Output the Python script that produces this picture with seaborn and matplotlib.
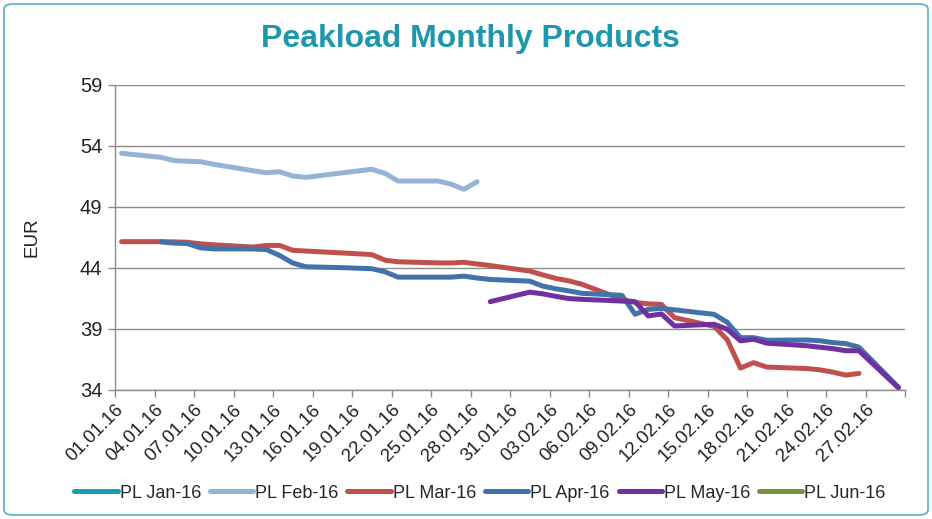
import numpy as np
import pandas as pd
import matplotlib
matplotlib.use("Agg")
import matplotlib.pyplot as plt
from matplotlib.lines import Line2D
from matplotlib.patches import FancyBboxPatch
import seaborn as sns

# ---------------- data ----------------
trade_dates = [
    "01.01.16", "04.01.16", "05.01.16", "06.01.16", "07.01.16", "08.01.16",
    "11.01.16", "12.01.16", "13.01.16", "14.01.16", "15.01.16",
    "18.01.16", "19.01.16", "20.01.16", "21.01.16", "22.01.16",
    "25.01.16", "26.01.16", "27.01.16", "28.01.16", "29.01.16",
    "01.02.16", "02.02.16", "03.02.16", "04.02.16", "05.02.16",
    "08.02.16", "09.02.16", "10.02.16", "11.02.16", "12.02.16",
    "15.02.16", "16.02.16", "17.02.16", "18.02.16", "19.02.16",
    "22.02.16", "23.02.16", "24.02.16", "25.02.16", "26.02.16",
    "29.02.16",
]
nan = np.nan
pl_jan16 = [nan] * 42
pl_feb16 = [53.40, 53.07, 52.80, 52.75, 52.71, 52.50,
            51.97, 51.81, 51.89, 51.54, 51.43,
            51.83, 51.96, 52.09, 51.76, 51.13,
            51.13, 50.89, 50.45, 51.07, nan,
            nan, nan, nan, nan, nan,
            nan, nan, nan, nan, nan,
            nan, nan, nan, nan, nan,
            nan, nan, nan, nan, nan,
            nan]
pl_mar16 = [46.16, 46.16, 46.14, 46.11, 45.98, 45.90,
            45.72, 45.85, 45.85, 45.45, 45.39,
            45.22, 45.16, 45.10, 44.64, 44.51,
            44.42, 44.41, 44.47, 44.33, 44.20,
            43.75, 43.43, 43.14, 42.94, 42.65,
            41.43, 41.18, 41.06, 41.02, 39.93,
            39.22, 38.12, 35.80, 36.24, 35.88,
            35.76, 35.66, 35.47, 35.22, 35.36,
            nan]
pl_apr16 = [nan, 46.14, 46.04, 46.00, 45.65, 45.57,
            45.56, 45.51, 45.03, 44.41, 44.10,
            44.02, 43.98, 43.94, 43.69, 43.25,
            43.25, 43.25, 43.33, 43.18, 43.06,
            42.92, 42.51, 42.29, 42.12, 41.92,
            41.76, 40.21, 40.61, 40.69, 40.57,
            40.20, 39.55, 38.29, 38.29, 38.08,
            38.10, 38.04, 37.89, 37.80, 37.51,
            34.22]
pl_may16 = [nan, nan, nan, nan, nan, nan,
            nan, nan, nan, nan, nan,
            nan, nan, nan, nan, nan,
            nan, nan, nan, nan, 41.24,
            42.02, 41.88, 41.67, 41.49, 41.43,
            41.29, 41.24, 40.07, 40.23, 39.25,
            39.39, 38.98, 38.03, 38.16, 37.84,
            37.63, 37.51, 37.39, 37.22, 37.22,
            34.18]
pl_jun16 = [nan] * 42

series_names = ["PL Jan-16", "PL Feb-16", "PL Mar-16", "PL Apr-16", "PL May-16", "PL Jun-16"]
series_values = [pl_jan16, pl_feb16, pl_mar16, pl_apr16, pl_may16, pl_jun16]
y_ticks = [34, 39, 44, 49, 54, 59]

colors = {
    "PL Jan-16": "#1b9bb3",
    "PL Feb-16": "#95b3d7",
    "PL Mar-16": "#c0504d",
    "PL Apr-16": "#4372aa",
    "PL May-16": "#7030a0",
    "PL Jun-16": "#77933c",
}

# ---------------- frame ----------------
dates = pd.to_datetime(trade_dates, format="%d.%m.%y")
rows = []
for name, vals in zip(series_names, series_values):
    for d, v in zip(dates, vals):
        if not np.isnan(v):
            rows.append({"date": d + pd.Timedelta(hours=12), "price": v, "product": name})
df = pd.DataFrame(rows)

sns.set_theme(style="white")
plt.rcParams["font.family"] = ["Liberation Sans", "DejaVu Sans"]

fig = plt.figure(figsize=(9.32, 5.19), dpi=100)
ax = fig.add_axes([115 / 932, 1 - 390 / 519, (905 - 115) / 932, (390 - 85) / 519])

present = [n for n in series_names if n in set(df["product"])]
sns.lineplot(data=df, x="date", y="price", hue="product", hue_order=present,
             palette=colors, linewidth=3.6, legend=False, ax=ax,
             estimator=None, sort=True)

ax.set_xlim(pd.Timestamp("2016-01-01"), pd.Timestamp("2016-03-01"))
ax.set_ylim(34, 59)
ax.set_yticks(y_ticks)
ax.set_yticklabels([str(t) for t in y_ticks], fontsize=14.5, color="#222222")

xt = pd.date_range("2016-01-01", "2016-03-01", freq="3D")
ax.set_xticks(xt)
labels = [d.strftime("%d.%m.%y") for d in xt]
labels[-1] = ""
ax.set_xticklabels(labels, rotation=45, ha="right", rotation_mode="anchor",
                   fontsize=13.5, color="#222222")

ax.grid(axis="y", color="#8c8c8c", linewidth=1.0)
ax.grid(axis="x", visible=False)
for s in ["top", "right"]:
    ax.spines[s].set_visible(False)
for s in ["left", "bottom"]:
    ax.spines[s].set_color("#8c8c8c")
    ax.spines[s].set_linewidth(1.0)
ax.tick_params(axis="both", which="major", length=5, width=1.0, color="#8c8c8c",
               direction="out", bottom=True, left=True)
ax.tick_params(axis="x", pad=3)
ax.tick_params(axis="y", pad=4)
ax.set_xlabel("")
ax.set_ylabel("EUR", fontsize=13.5, color="#222222")
ax.yaxis.set_label_coords((40 - 115) / 790, 0.5)

fig.text(0.505, 1 - 39 / 519, "Peakload Monthly Products", ha="center", va="center",
         fontsize=23, fontweight="bold", color="#1f97ab")

handles = [Line2D([0], [0], color=colors[n], linewidth=3.6) for n in series_names]
fig.legend(handles, series_names, loc="center", bbox_to_anchor=(0.515, 1 - 493 / 519),
           ncol=6, frameon=False, fontsize=13, handlelength=2.4, handletextpad=0.1,
           columnspacing=0.5)

border = FancyBboxPatch((4 / 932, 4 / 519), 1 - 8 / 932, 1 - 8 / 519,
                        boxstyle="round,pad=0,rounding_size=0.01",
                        transform=fig.transFigure, fill=False,
                        edgecolor="#5aaec4", linewidth=1.2)
fig.patches.append(border)

fig.savefig("out.png", dpi=100)
